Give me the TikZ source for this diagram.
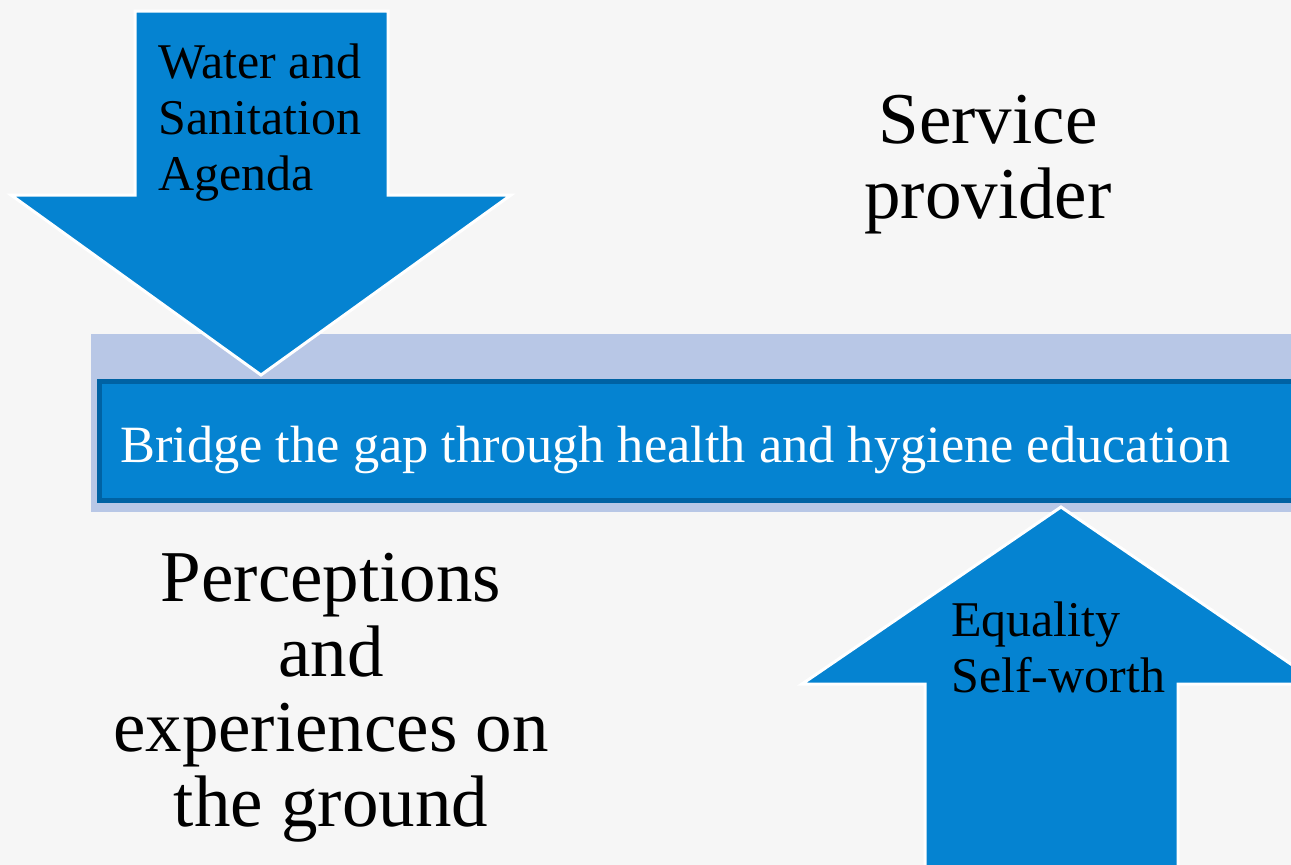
\documentclass[tikz,border=0pt]{standalone}
\usepackage{fontspec}
\setmainfont{Liberation Serif}
\definecolor{paper}{HTML}{F6F6F6}
\definecolor{arrowblue}{HTML}{0583D1}
\definecolor{bardark}{HTML}{0062A3}
\definecolor{bandblue}{HTML}{B8C7E6}

\tikzset{
	bigarrow/.style={fill=arrowblue,draw=white,line width=3pt,line join=miter},
	small/.style={inner sep=0pt,align=left,font=\fontsize{50}{56}\selectfont},
	large/.style={inner sep=0pt,align=center,font=\fontsize{73}{75}\selectfont}
}

\begin{document}
\begin{tikzpicture}[x=1pt,y=-1pt]
	
	\clip (0,0) rectangle (1291,865);
	\fill[paper] (0,0) rectangle (1291,865);
	
	% band and bar
	\fill[bandblue] (91,334) rectangle (1300,512);
	\filldraw[fill=arrowblue,draw=bardark,line width=5pt] (99.5,381.5) rectangle (1300,500.5);
	\node[inner sep=0pt,anchor=base west,text=white,font=\fontsize{52.4}{56}\selectfont] (bridge) at (120,462) {Bridge the gap through health and hygiene education};
	
	% arrows
	\filldraw[bigarrow] (135,11) -- (388,11) -- (388,195) -- (511,195) -- (261,375) -- (11,195) -- (135,195) -- cycle;
	\filldraw[bigarrow] (925,870) -- (925,684) -- (802,684) -- (1061,507) -- (1320,684) -- (1178,684) -- (1178,870) -- cycle;
	
	% texts (base = last line)
	\node[small,anchor=base west] (agenda) at (158,190) {Water and\\Sanitation\\Agenda};
	\node[small,anchor=base west] (worth) at (951,692) {Equality\\Self-worth};
	\node[large,anchor=base] (provider) at (988,218) {Service\\provider};
	\node[large,anchor=base] (ground) at (331,826) {Perceptions\\and\\experiences on\\the ground};
	
\end{tikzpicture}
\end{document}
